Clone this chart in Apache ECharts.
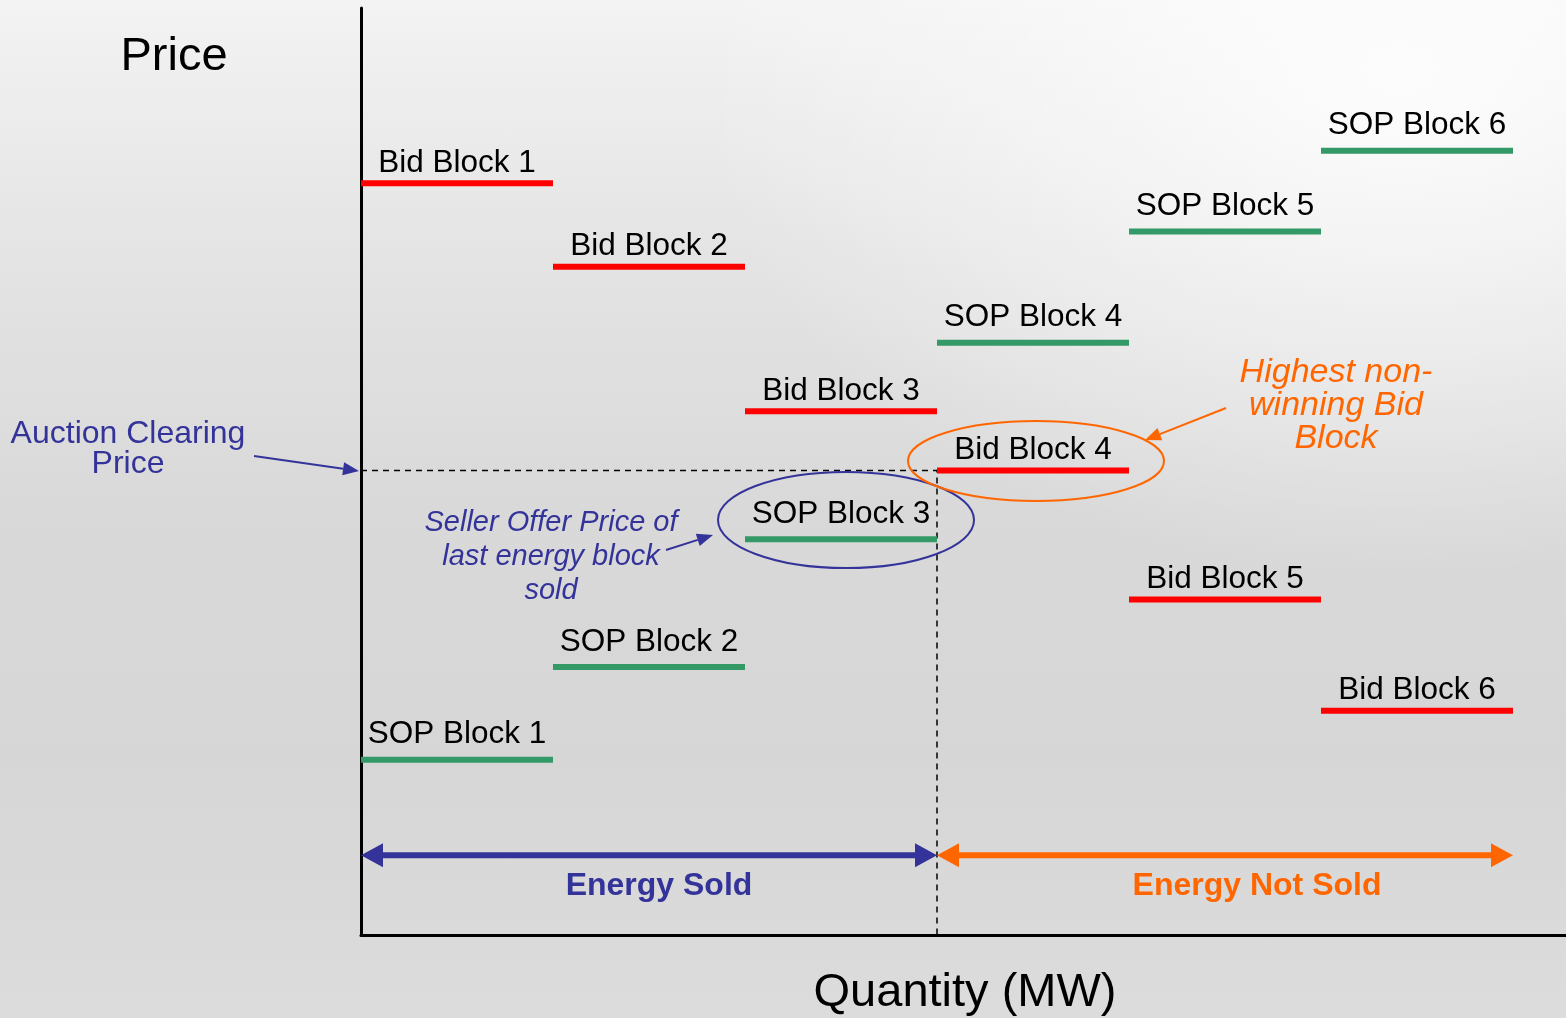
<!DOCTYPE html>
<html>
<head>
<meta charset="utf-8">
<script src="https://cdn.jsdelivr.net/npm/echarts@6/dist/echarts.min.js"></script>
<style>
html,body{margin:0;padding:0;width:1566px;height:1018px;overflow:hidden;}
body{background:
  radial-gradient(ellipse 700px 500px at 1400px 80px, rgba(255,255,255,0.85), rgba(255,255,255,0) 100%),
  linear-gradient(180deg,#f3f3f3 0%,#e4e4e4 25%,#d9d9d9 50%,#d6d6d6 75%,#dcdcdc 100%);}
#chart{width:1566px;height:1018px;}
</style>
</head>
<body>
<div id="chart"></div>
<script>
// ---- data ----
const blockIndex = [1, 2, 3, 4, 5, 6];              // block n spans quantity n-1 .. n
const bidLabels = ['Bid Block 1','Bid Block 2','Bid Block 3','Bid Block 4','Bid Block 5','Bid Block 6'];
const bidPrices = [81.1, 72.1, 56.5, 50.1, 36.2, 24.2];
const sopLabels = ['SOP Block 1','SOP Block 2','SOP Block 3','SOP Block 4','SOP Block 5','SOP Block 6'];
const sopPrices = [18.9, 28.9, 42.7, 63.9, 75.9, 84.6];
const clearingPrice = 50.1;
const clearingQty = 3;
const totalQty = 6;
const rangeLabels = ['Energy Sold', 'Energy Not Sold'];
const rangeLevel = 8.6;

const FONT = '"Liberation Sans", Arial, sans-serif';
const chart = echarts.init(document.getElementById('chart'), null, {renderer:'canvas'});

function blockSeries(prices, labels, color, labelOffset) {
  return {
    type: 'custom',
    data: blockIndex.map((b, i) => [b, prices[i]]),
    renderItem: function (params, api) {
      const xe = api.value(0), y = api.value(1);
      const p0 = api.coord([xe - 1, y]), p1 = api.coord([xe, y]);
      return {
        type: 'group',
        children: [
          {type:'line', shape:{x1:p0[0], y1:p0[1], x2:p1[0], y2:p1[1]}, style:{stroke:color, lineWidth:6}},
          {type:'text', style:{text: labels[params.dataIndex], x:(p0[0]+p1[0])/2, y:p0[1]-labelOffset,
            align:'center', verticalAlign:'middle', font:'31.5px ' + FONT, fill:'#000'}}
        ]
      };
    },
    z: 5
  };
}

const rangeColors = ['#333399', '#ff6600'];
const rangeTextShift = [10, 32];
const rangeSeries = {
  type: 'custom',
  data: [[0, clearingQty, rangeLevel], [clearingQty, totalQty, rangeLevel]],
  renderItem: function (params, api) {
    const a = api.coord([api.value(0), api.value(2)]);
    const b = api.coord([api.value(1), api.value(2)]);
    const c = rangeColors[params.dataIndex];
    const L = 22, H = 12;
    return {
      type: 'group',
      children: [
        {type:'line', shape:{x1:a[0]+L-4, y1:a[1], x2:b[0]-L+4, y2:b[1]}, style:{stroke:c, lineWidth:6}},
        {type:'polygon', shape:{points:[[a[0],a[1]],[a[0]+L,a[1]-H],[a[0]+L,a[1]+H]]}, style:{fill:c}},
        {type:'polygon', shape:{points:[[b[0],b[1]],[b[0]-L,b[1]-H],[b[0]-L,b[1]+H]]}, style:{fill:c}},
        {type:'text', style:{text: rangeLabels[params.dataIndex], x:(a[0]+b[0])/2 + rangeTextShift[params.dataIndex], y:a[1]+31,
          align:'center', verticalAlign:'middle', font:'bold 32px ' + FONT, fill:c}}
      ]
    };
  },
  z: 6
};

function arrow(x1, y1, x2, y2, color, w, hl, hw) {
  const ang = Math.atan2(y2 - y1, x2 - x1);
  const bx = x2 - hl * Math.cos(ang), by = y2 - hl * Math.sin(ang);
  const nx = -Math.sin(ang) * hw / 2, ny = Math.cos(ang) * hw / 2;
  return [
    {type:'line', shape:{x1:x1, y1:y1, x2:bx, y2:by}, style:{stroke:color, lineWidth:w}, z:10},
    {type:'polygon', shape:{points:[[x2,y2],[bx+nx,by+ny],[bx-nx,by-ny]]}, style:{fill:color}, z:10}
  ];
}

const graphics = [
  {type:'text', x:174, y:57, style:{text:'Price', font:'47px ' + FONT, fill:'#000', align:'center', verticalAlign:'middle'}},
  {type:'text', x:965, y:993, style:{text:'Quantity (MW)', font:'47px ' + FONT, fill:'#000', align:'center', verticalAlign:'middle'}},
  {type:'text', x:128, y:449, style:{text:'Auction Clearing\nPrice', font:'32px ' + FONT, lineHeight:30, fill:'#333399', align:'center', verticalAlign:'middle'}},
  {type:'text', x:551, y:557, style:{text:'Seller Offer Price of\nlast energy block\nsold', font:'italic 29px ' + FONT, lineHeight:34, fill:'#333399', align:'center', verticalAlign:'middle'}},
  {type:'text', x:1336, y:406, style:{text:'Highest non-\nwinning Bid\nBlock', font:'italic 34px ' + FONT, lineHeight:33, fill:'#ff6600', align:'center', verticalAlign:'middle'}},
  {type:'ellipse', shape:{cx:846, cy:520, rx:128, ry:48}, style:{fill:'none', stroke:'#333399', lineWidth:2}, z:9},
  {type:'ellipse', shape:{cx:1036, cy:461, rx:128, ry:40}, style:{fill:'none', stroke:'#ff6600', lineWidth:2}, z:9}
].concat(
  arrow(254, 456, 359, 471, '#333399', 2, 16, 13),
  arrow(666, 550, 713, 535, '#333399', 2, 16, 13),
  arrow(1226, 408, 1145, 440, '#ff6600', 2, 16, 13)
);

chart.setOption({
  backgroundColor: 'transparent',
  animation: false,
  grid: {left: 361, right: 0, top: 8, bottom: 83},
  xAxis: {
    type: 'value', min: 0, max: 6.276,
    axisLine: {show: true, lineStyle: {color: '#000', width: 3}},
    axisTick: {show: false}, axisLabel: {show: false}, splitLine: {show: false}
  },
  yAxis: {
    type: 'value', min: 0, max: 100,
    axisLine: {show: true, lineStyle: {color: '#000', width: 3}},
    axisTick: {show: false}, axisLabel: {show: false}, splitLine: {show: false}
  },
  series: [
    {
      type: 'line',
      data: [[0, clearingPrice], [clearingQty, clearingPrice], [clearingQty, 0]],
      symbol: 'none',
      lineStyle: {color: '#000', width: 1.5, type: [6, 5]},
      z: 3
    },
    blockSeries(bidPrices, bidLabels, '#ff0000', 20),
    blockSeries(sopPrices, sopLabels, '#339966', 25),
    rangeSeries
  ],
  graphic: graphics
});
</script>
</body>
</html>
